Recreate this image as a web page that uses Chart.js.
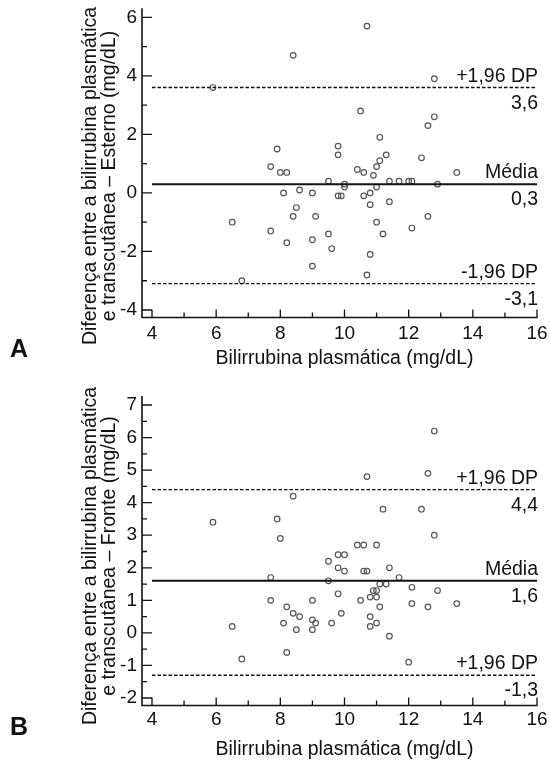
<!DOCTYPE html>
<html><head><meta charset="utf-8">
<script src="https://cdn.jsdelivr.net/npm/chart.js@4.4.0/dist/chart.umd.min.js"></script>
<style>
html,body{margin:0;padding:0;background:#fff;}
#wrap{position:relative;width:550px;height:761px;overflow:hidden;}
.box{position:absolute;left:0;width:550px;}
</style></head><body>
<div id="wrap">
<div class="box" style="top:0;height:380px"><canvas id="cA"></canvas></div>
<div class="box" style="top:380px;height:381px"><canvas id="cB"></canvas></div>
</div>
<script>
// ---- Data ----
const plasmaA = [5.9,8.4,10.7,12.8,10.5,12.8,12.6,11.1,7.9,9.8,9.8,11.3,12.4,11.1,11.0,7.7,8.0,8.2,10.4,10.6,10.9,13.5,9.5,11.4,11.7,12.0,12.1,10.0,12.9,8.6,8.1,9.0,9.8,9.9,10.0,10.6,10.8,11.0,11.4,8.5,10.8,8.4,9.1,12.6,6.5,11.0,12.1,7.7,9.5,11.2,9.0,8.2,9.6,10.8,9.0,10.7,6.8];
const diffA   = [3.6,4.7,5.7,3.9,2.8,2.6,2.3,1.9,1.5,1.6,1.3,1.3,1.2,1.1,0.9,0.9,0.7,0.7,0.8,0.7,0.6,0.7,0.4,0.4,0.4,0.4,0.4,0.3,0.3,0.1,0.0,0.0,-0.1,-0.1,0.2,-0.1,0.0,0.2,-0.3,-0.5,-0.4,-0.8,-0.8,-0.8,-1.0,-1.0,-1.2,-1.3,-1.4,-1.4,-1.6,-1.7,-1.9,-2.1,-2.5,-2.8,-3.0];
const plasmaB = [5.9,7.9,8.0,8.4,7.7,9.5,9.5,9.8,10.0,9.8,10.0,10.4,10.6,11.0,10.7,11.2,12.4,12.6,12.8,12.8,10.6,10.7,11.4,11.7,12.1,12.9,11.1,11.3,10.9,11.0,7.7,9.0,9.8,10.5,10.8,11.0,11.1,12.1,12.6,13.5,8.2,8.4,8.6,9.9,10.8,9.0,9.1,8.1,9.6,11.0,10.8,9.0,8.5,6.5,11.4,8.2,6.8,12.0];
const diffB   = [3.4,3.5,2.9,4.2,1.7,2.2,1.6,2.4,2.4,2.0,1.9,2.7,2.7,2.7,4.8,3.8,3.8,4.9,6.2,3.0,1.9,1.9,2.0,1.7,1.4,1.3,1.5,1.5,1.3,1.3,1.0,1.0,1.2,1.0,1.1,1.1,0.8,0.9,0.8,0.9,0.8,0.6,0.5,0.6,0.5,0.4,0.3,0.3,0.3,0.3,0.2,0.1,0.1,0.2,-0.1,-0.6,-0.8,-0.9];

const xTicks = [4,6,8,10,12,14,16];
const xMinorTicks = [5,7,9,11,13,15];
const yTicksA = [-4,-2,0,2,4,6];
const yMinorA = [-3,-1,1,3,5];
const yTicksB = [-2,-1,0,1,2,3,4,5,6,7];
const yMinorB = [-1.5,-0.5,0.5,1.5,2.5,3.5,4.5,5.5,6.5];

const limitsA = [3.6, 0.3, -3.1];
const limitNamesA = ['+1,96 DP','Média','-1,96 DP'];
const limitTextA = ['3,6','0,3','-3,1'];
const limitsB = [4.4, 1.6, -1.3];
const limitNamesB = ['+1,96 DP','Média','+1,96 DP'];
const limitTextB = ['4,4','1,6','-1,3'];

const xTitle = 'Bilirrubina plasmática (mg/dL)';
const yTitleA = ['Diferença entre a bilirrubina plasmática','e transcutânea – Esterno (mg/dL)'];
const yTitleB = ['Diferença entre a bilirrubina plasmática','e transcutânea – Fronte (mg/dL)'];

const FONT = '"Liberation Sans", Arial, Helvetica, sans-serif';
const INK = '#111';

const decor = {
  id: 'decor',
  afterDatasetsDraw(chart, args, o) {
    const {ctx, chartArea: a, scales: {x, y}} = chart;
    const axX = a.left - 10, axY = a.bottom + 7.5;
    ctx.save();
    ctx.strokeStyle = INK;
    ctx.lineWidth = 1.6;
    ctx.beginPath();
    ctx.moveTo(axX, a.top - 9);
    ctx.lineTo(axX, axY);
    ctx.lineTo(x.getPixelForValue(x.max) + 0.5, axY);
    ctx.stroke();
    ctx.lineWidth = 1.3;
    ctx.beginPath();
    for (const v of o.yMajor) { const p = y.getPixelForValue(v); ctx.moveTo(axX, p); ctx.lineTo(axX + 10, p); }
    for (const v of o.yMinor) { const p = y.getPixelForValue(v); ctx.moveTo(axX, p); ctx.lineTo(axX + 5, p); }
    for (const v of xTicks) { const p = x.getPixelForValue(v); ctx.moveTo(p, axY); ctx.lineTo(p, axY - 8); }
    for (const v of xMinorTicks) { const p = x.getPixelForValue(v); ctx.moveTo(p, axY); ctx.lineTo(p, axY - 5); }
    ctx.stroke();

    ctx.fillStyle = INK;
    ctx.font = '19.5px ' + FONT;
    ctx.textAlign = 'right';
    ctx.textBaseline = 'alphabetic';
    o.limits.forEach((v, i) => {
      const p = y.getPixelForValue(v);
      ctx.fillText(o.names[i], a.right + 1, p - 6);
      ctx.fillText(o.values[i], a.right + 1, p + 21);
    });

    ctx.save();
    ctx.translate(o.titleX, o.titleY);
    ctx.rotate(-Math.PI / 2);
    ctx.textAlign = 'center';
    ctx.textBaseline = 'middle';
    ctx.fillText(o.yTitle[0], 0, 0);
    ctx.fillText(o.yTitle[1], 0, 19);
    ctx.restore();

    ctx.font = 'bold 25px ' + FONT;
    ctx.textAlign = 'left';
    ctx.textBaseline = 'alphabetic';
    ctx.fillText(o.letter, 10, o.letterY);
    ctx.restore();
  }
};

function makeChart(id, p) {
  const pts = p.xs.map((v, i) => ({x: v, y: p.ys[i]}));
  const lines = p.limits.map((v, i) => ({
    type: 'line',
    data: [{x: 4, y: v}, {x: 16, y: v}],
    borderColor: INK,
    borderWidth: i === 1 ? 2 : 1.4,
    borderDash: i === 1 ? [] : [3.5, 2],
    pointRadius: 0,
    fill: false,
    order: 1
  }));
  return new Chart(document.getElementById(id), {
    type: 'scatter',
    data: {
      datasets: [{
        data: pts,
        pointRadius: 2.8,
        pointBorderWidth: 1.2,
        borderColor: '#555',
        backgroundColor: 'rgba(0,0,0,0)',
        pointStyle: 'circle',
        order: 2
      }, ...lines]
    },
    options: {
      responsive: true,
      maintainAspectRatio: false,
      devicePixelRatio: 1,
      animation: false,
      events: [],
      layout: {padding: {left: 112, right: 13, top: p.top, bottom: 0}},
      plugins: {
        legend: {display: false},
        tooltip: {enabled: false},
        decor: {
          yMajor: p.yTicks, yMinor: p.yMinor, limits: p.limits, names: p.names, values: p.values,
          yTitle: p.yTitle, titleX: 91, titleY: 176, letter: p.letter, letterY: p.letterY
        }
      },
      scales: {
        x: {
          type: 'linear', min: 4, max: 16,
          afterBuildTicks: s => { s.ticks = xTicks.map(v => ({value: v})); },
          afterFit: s => { s.height = p.xHeight; s.paddingLeft = 0; s.paddingRight = 0; },
          grid: {display: false, drawTicks: false}, border: {display: false},
          ticks: {color: INK, font: {size: 19, family: FONT}, padding: p.xTickPad, maxRotation: 0, autoSkip: false},
          title: {display: true, text: xTitle, color: INK, font: {size: 19.5, family: FONT}, padding: {top: 0, bottom: p.titlePad}}
        },
        y: {
          type: 'linear', min: p.yMin, max: p.yMax,
          afterBuildTicks: s => { s.ticks = p.yTicks.map(v => ({value: v})); },
          afterFit: s => { s.width = 40; s.paddingTop = 0; s.paddingBottom = 0; },
          grid: {display: false, drawTicks: false}, border: {display: false},
          ticks: {color: INK, font: {size: 19, family: FONT}, padding: 15, autoSkip: false}
        }
      }
    },
    plugins: [decor]
  });
}

makeChart('cA', {xs: plasmaA, ys: diffA, yMin: -4, yMax: 6, yTicks: yTicksA, yMinor: yMinorA,
  limits: limitsA, names: limitNamesA, values: limitTextA, yTitle: yTitleA, letter: 'A', letterY: 357,
  top: 17.3, xHeight: 70, titlePad: 10, xTickPad: 12});
makeChart('cB', {xs: plasmaB, ys: diffB, yMin: -2, yMax: 7, yTicks: yTicksB, yMinor: yMinorB,
  limits: limitsB, names: limitNamesB, values: limitTextB, yTitle: yTitleB, letter: 'B', letterY: 355,
  top: 25, xHeight: 63, titlePad: 0, xTickPad: 10});
</script>
</body></html>
